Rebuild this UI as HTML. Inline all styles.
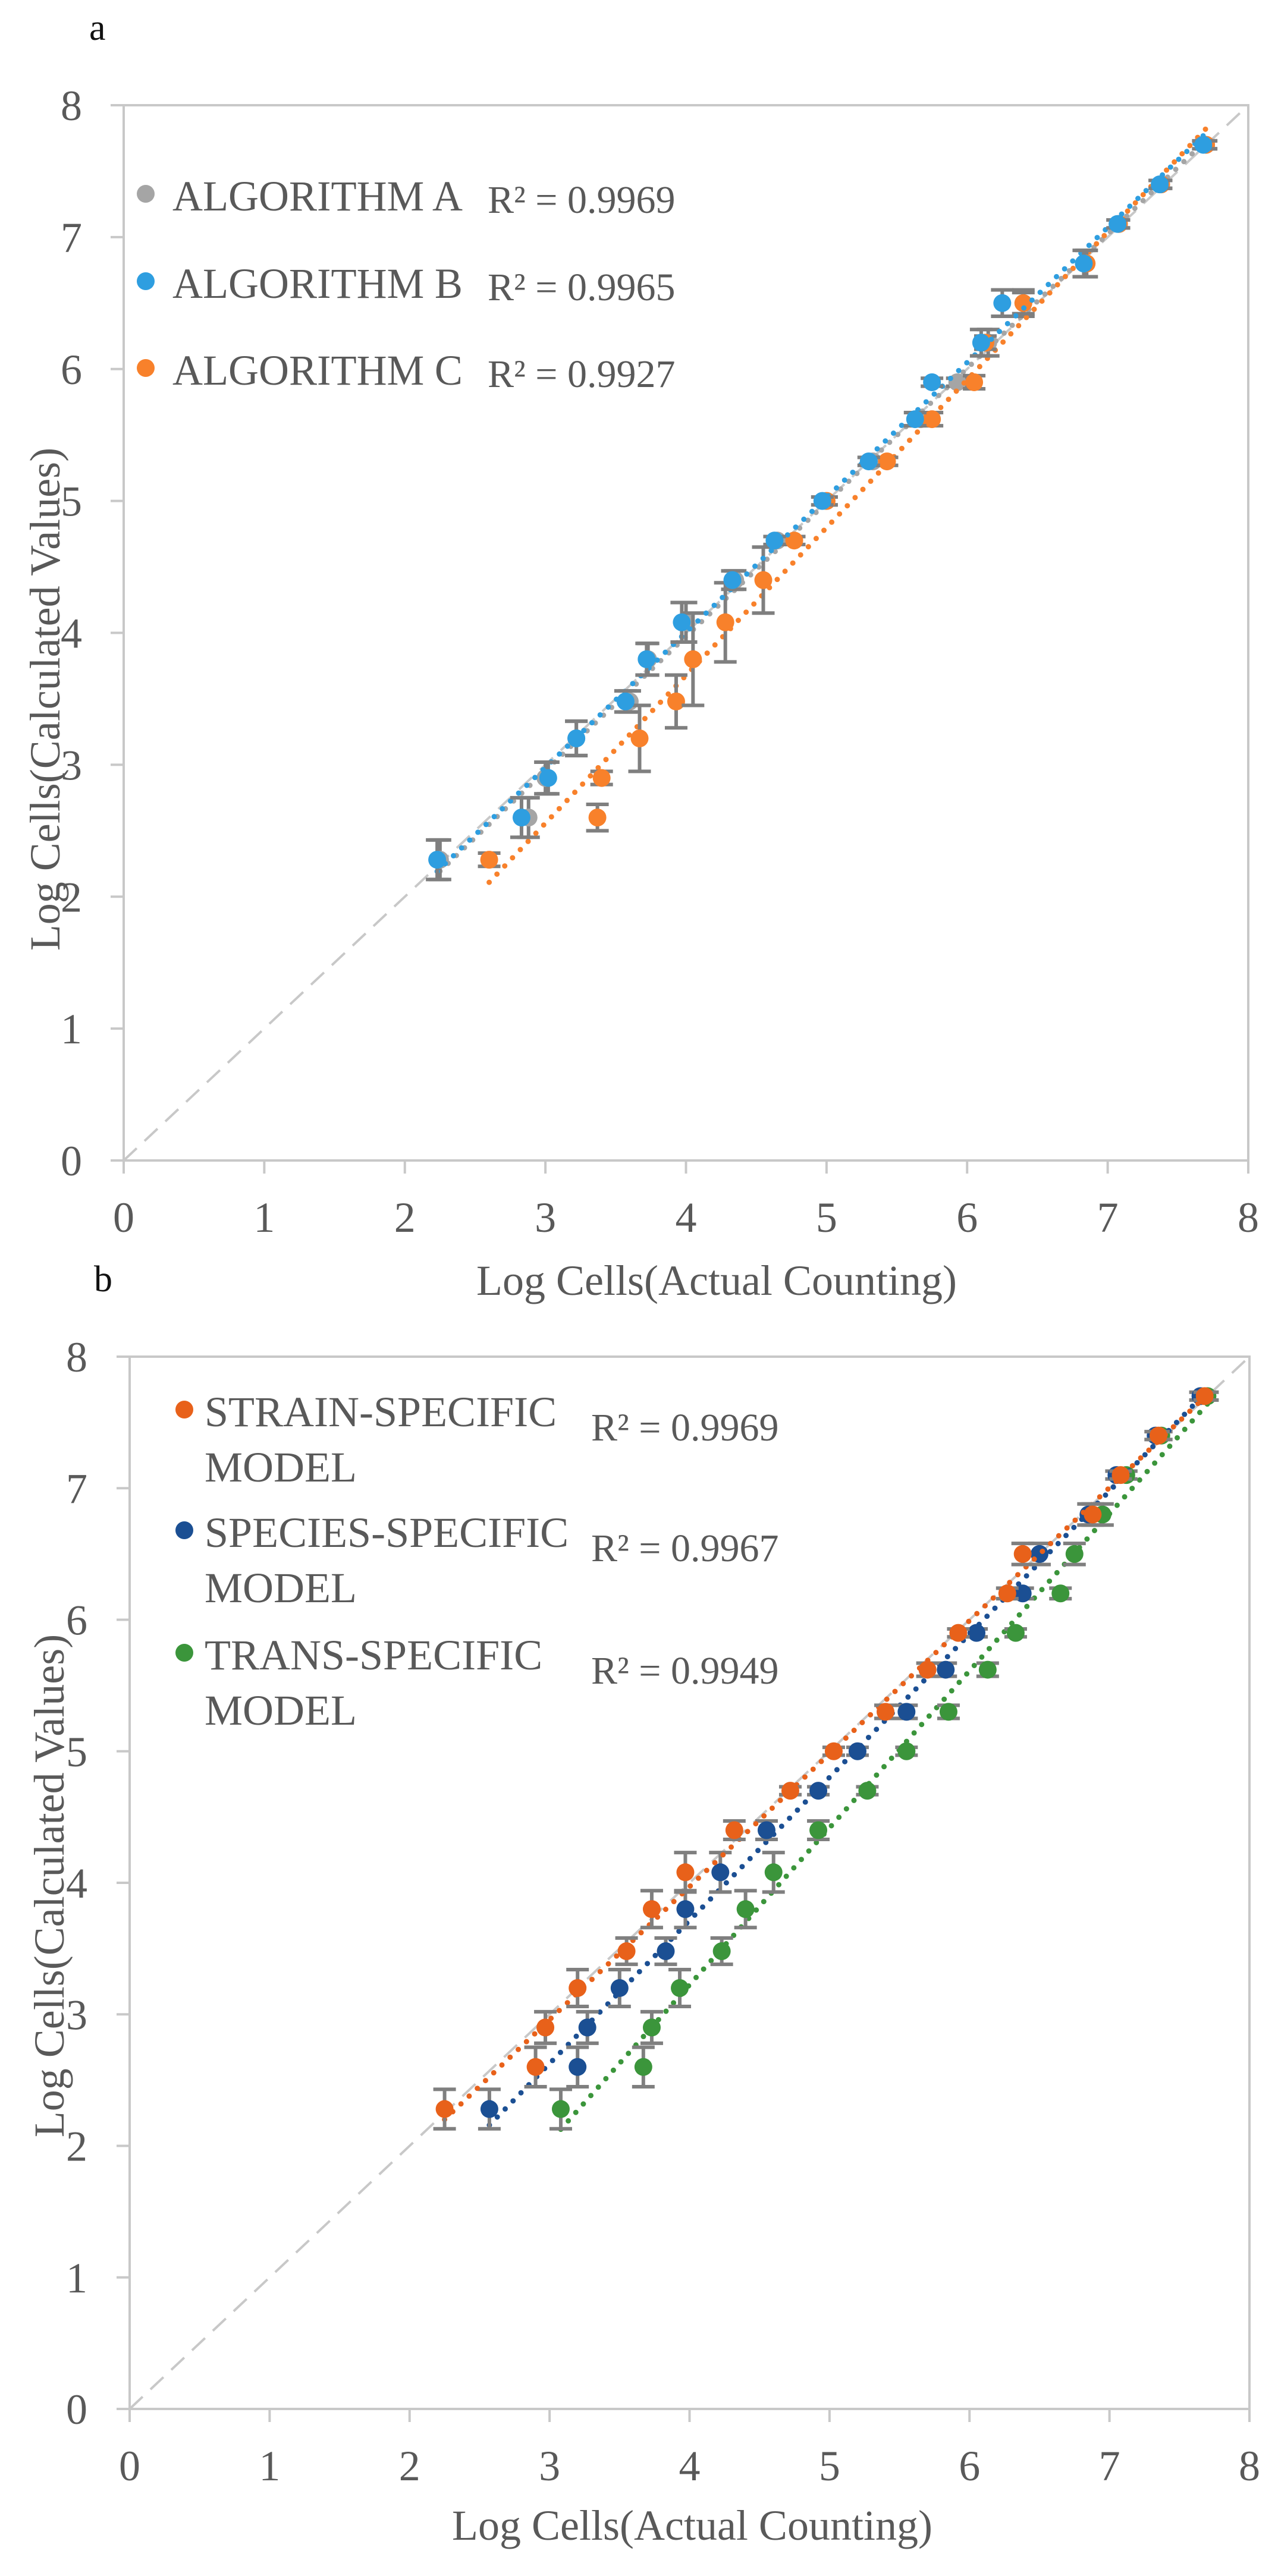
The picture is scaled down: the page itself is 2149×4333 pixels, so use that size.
<!DOCTYPE html>
<html><head><meta charset="utf-8">
<style>
html,body{margin:0;padding:0;background:#fff;}
svg{display:block;}
text{font-family:"Liberation Serif",serif;fill:#595959;}
</style></head>
<body>
<svg id="fig" width="2149" height="4333" viewBox="0 0 2149 4333" xmlns="http://www.w3.org/2000/svg">
  <text x="150" y="67" font-size="62" style="fill:#111">a</text>
  <text x="158" y="2172" font-size="62" style="fill:#111">b</text>
  <g id="chartA"></g>
  <g id="chartB"></g>
</svg>
<script>
// ---------- Data: panel a ----------
const ticks = [0,1,2,3,4,5,6,7,8];
const yValsA = [2.28,2.6,2.9,3.2,3.48,3.8,4.08,4.4,4.7,5.0,5.3,5.62,5.9,6.2,6.5,6.8,7.1,7.4,7.7];
const algAx = [2.25,2.88,3.0,3.22,3.6,3.73,4.0,4.35,4.65,5.0,5.33,5.67,5.93,6.15,6.4,6.85,7.08,7.38,7.7];
const algBx = [2.23,2.83,3.02,3.22,3.57,3.72,3.97,4.33,4.63,4.97,5.3,5.63,5.75,6.1,6.25,6.83,7.07,7.37,7.68];
const algCx = [2.6,3.37,3.4,3.67,3.93,4.05,4.28,4.55,4.77,5.0,5.43,5.75,6.05,6.13,6.4,6.85,7.08,7.38,7.7];
const algCy = [2.28,2.6,2.9,3.2,3.48,3.8,4.08,4.4,4.7,5.0,5.3,5.62,5.9,6.2,6.5,6.8,7.1,7.4,7.7];
const errA = [0.15,0.15,0.12,0.13,0.08,0.12,0.15,0.07,0.03,0.03,0.03,0.05,0.03,0.1,0.1,0.1,0.03,0.03,0.03];
const errC = [0.05,0.1,0.05,0.25,0.2,0.35,0.3,0.25,0.03,0.03,0.03,0.05,0.05,0.05,0.08,0.1,0.03,0.03,0.03];
const labelsA = ["ALGORITHM A","ALGORITHM B","ALGORITHM C"];
const r2A = ["0.9969","0.9965","0.9927"];

// ---------- Data: panel b ----------
const yValsB = [2.28,2.6,2.9,3.2,3.48,3.8,4.08,4.4,4.7,5.0,5.3,5.62,5.9,6.2,6.5,6.8,7.1,7.4,7.7];
const strainX = [2.25,2.9,2.97,3.2,3.55,3.73,3.97,4.32,4.72,5.03,5.4,5.7,5.92,6.27,6.38,6.88,7.08,7.35,7.68];
const speciesX = [2.57,3.2,3.27,3.5,3.83,3.97,4.22,4.55,4.92,5.2,5.55,5.83,6.05,6.38,6.5,6.85,7.05,7.33,7.65];
const transX = [3.08,3.67,3.73,3.93,4.23,4.4,4.6,4.92,5.27,5.55,5.85,6.13,6.33,6.65,6.75,6.95,7.12,7.37,7.7];
const errB = [0.15,0.15,0.12,0.14,0.1,0.14,0.15,0.07,0.03,0.03,0.05,0.05,0.03,0.04,0.08,0.08,0.03,0.03,0.03];
const labelsB1 = ["STRAIN-SPECIFIC","SPECIES-SPECIFIC","TRANS-SPECIFIC"];
const r2B = ["0.9969","0.9967","0.9949"];

const NS = "http://www.w3.org/2000/svg";
function mk(parent, tag, attrs){
  const e = document.createElementNS(NS, tag);
  for (const k in attrs) e.setAttribute(k, attrs[k]);
  parent.appendChild(e);
  return e;
}

function fit(xs, ys){
  const n = xs.length; let sx=0,sy=0,sxx=0,sxy=0;
  for(let i=0;i<n;i++){sx+=xs[i];sy+=ys[i];sxx+=xs[i]*xs[i];sxy+=xs[i]*ys[i];}
  const m=(n*sxy-sx*sy)/(n*sxx-sx*sx); return {m:m,b:(sy-m*sx)/n};
}

function drawAxes(g, cfg){
  const X = v => cfg.x0 + (cfg.x1-cfg.x0)*v/8;
  const Y = v => cfg.y0 - (cfg.y0-cfg.y1)*v/8;
  const frame = mk(g,'rect',{x:X(0),y:Y(8),width:X(8)-X(0),height:Y(0)-Y(8),fill:'none',stroke:'#c8c8c8','stroke-width':4});
  
  
  ticks.forEach(t=>{
    const tx = mk(g,'line',{x1:X(t),x2:X(t),y1:Y(0),y2:Y(0)+22,stroke:'#c8c8c8','stroke-width':4});
    
    
    const ty = mk(g,'line',{x1:X(0)-22,x2:X(0),y1:Y(t),y2:Y(t),stroke:'#c8c8c8','stroke-width':4});
    
    
    const lx = mk(g,'text',{x:X(t),y:Y(0)+120,'font-size':72,'text-anchor':'middle'});
    lx.textContent = t;
    
    
    const ly = mk(g,'text',{x:cfg.ylabR,y:Y(t)+25,'font-size':72,'text-anchor':'end'});
    ly.textContent = t;
    
    
  });
  const d = mk(g,'line',{x1:X(0),y1:Y(0),x2:X(8),y2:Y(8),stroke:'#c8c8c8','stroke-width':4,'stroke-dasharray':'30 18'});
  
  
  const xt = mk(g,'text',{x:cfg.xtX,y:cfg.xtY,'font-size':72,'text-anchor':'middle'});
  xt.textContent = 'Log Cells(Actual Counting)';
  
  
  const yt = mk(g,'text',{x:0,y:0,'font-size':72,'text-anchor':'middle',transform:`translate(${cfg.ytX},${cfg.ytY}) rotate(-90)`});
  yt.textContent = 'Log Cells(Calculated Values)';
  
  
  return {X,Y};
}

function drawSeries(g, ax, xs, ys, errs, color, name){
  const f = fit(xs, ys);
  const xmin = Math.min(...xs), xmax = Math.max(...xs);
  const tl = mk(g,'line',{x1:ax.X(xmin),y1:ax.Y(f.m*xmin+f.b),x2:ax.X(xmax),y2:ax.Y(f.m*xmax+f.b),stroke:color,'stroke-width':9,'stroke-linecap':'round','stroke-dasharray':'0 19'});
  
  
  xs.forEach((x,i)=>{
    const cx = ax.X(x), cy = ax.Y(ys[i]), e = errs[i];
    const eb = mk(g,'path',{d:`M${cx},${ax.Y(ys[i]+e)}V${ax.Y(ys[i]-e)}M${cx-19},${ax.Y(ys[i]+e)}h38M${cx-19},${ax.Y(ys[i]-e)}h38`,stroke:'#7f7f7f','stroke-width':6,fill:'none'});
    
    
    const c = mk(g,'circle',{cx:cx,cy:cy,r:15,fill:color});
    
    
  });
}

// Panel a
const gA = document.getElementById('chartA');
const axA = drawAxes(gA,{x0:208,x1:2099,y0:1952,y1:177,ylabR:138,xtX:1205,xtY:2178,ytX:100,ytY:1176});
const colA = ['#a5a5a5','#2e9ee0','#f8812b'];
drawSeries(gA, axA, algAx, yValsA, errA, colA[0], 'algorithm-a');
drawSeries(gA, axA, algCx, algCy, errC, colA[2], 'algorithm-c');
drawSeries(gA, axA, algBx, yValsA, errA, colA[1], 'algorithm-b');
const legYA = [330,477,623];
labelsA.forEach((l,i)=>{
  const m = mk(gA,'circle',{cx:245,cy:legYA[i]-4,r:15,fill:colA[i]});
  
  
  const t = mk(gA,'text',{x:290,y:legYA[i]+24,'font-size':72,textLength:488,lengthAdjust:'spacingAndGlyphs'});
  t.textContent = l;
  
  
  const r = mk(gA,'text',{x:820,y:legYA[i]+28,'font-size':66});
  r.textContent = 'R² = ' + r2A[i];
  
  
});

// Panel b
const gB = document.getElementById('chartB');
const axB = drawAxes(gB,{x0:218,x1:2101,y0:4052,y1:2282,ylabR:147,xtX:1164,xtY:4272,ytX:107,ytY:3172});
const colB = ['#e8611a','#1b4f93','#3b953b'];
drawSeries(gB, axB, transX, yValsB, errB, colB[2], 'trans-specific');
drawSeries(gB, axB, speciesX, yValsB, errB, colB[1], 'species-specific');
drawSeries(gB, axB, strainX, yValsB, errB, colB[0], 'strain-specific');
const legYB = [2375,2578,2784];
labelsB1.forEach((l,i)=>{
  const m = mk(gB,'circle',{cx:310,cy:legYB[i]-4,r:15,fill:colB[i]});
  
  
  const t = mk(gB,'text',{x:344,y:legYB[i]+24,'font-size':72});
  t.textContent = l;
  
  
  const t2 = mk(gB,'text',{x:344,y:legYB[i]+117,'font-size':72});
  t2.textContent = 'MODEL';
  
  
  const r = mk(gB,'text',{x:994,y:legYB[i]+48,'font-size':66});
  r.textContent = 'R² = ' + r2B[i];
  
  
});
</script>
</body></html>
